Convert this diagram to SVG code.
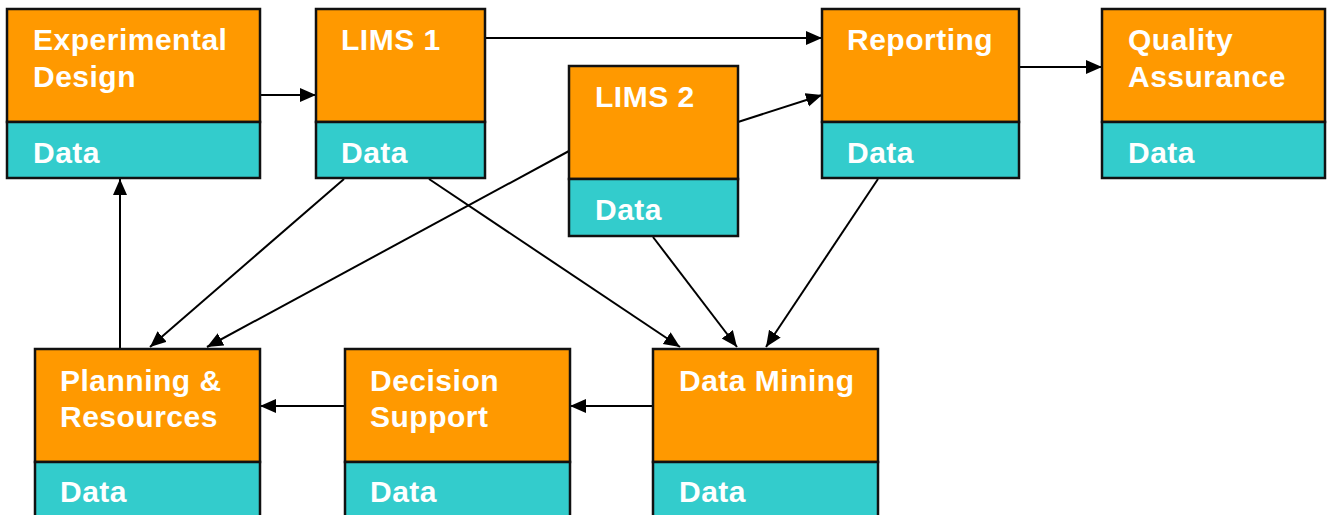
<svg xmlns="http://www.w3.org/2000/svg" width="1327" height="515" viewBox="0 0 1327 515">
<defs>
<marker id="ah" markerUnits="userSpaceOnUse" markerWidth="18" markerHeight="16" refX="16" refY="7" orient="auto">
<path d="M0,0 L16,7 L0,14 z" fill="#000"/>
</marker>
<style>
.top{fill:#FF9900;stroke:#111;stroke-width:2.5}
.dat{fill:#33CCCC;stroke:#111;stroke-width:2.5}
.t{font-family:"Liberation Sans",Arial,sans-serif;font-weight:bold;font-size:30px;letter-spacing:0.5px;fill:#fff}
.c line{stroke:#000;stroke-width:2;marker-end:url(#ah)}
</style>
</defs>
<rect width="1327" height="515" fill="#fff"/>
<g class="c" id="connectors">
<line x1="260" y1="95" x2="316" y2="95"/>
<line x1="485" y1="38" x2="822" y2="38"/>
<line x1="738" y1="122" x2="822" y2="95"/>
<line x1="1019" y1="67" x2="1102" y2="67"/>
<line x1="344" y1="179" x2="150" y2="347"/>
<line x1="569" y1="151" x2="207" y2="347"/>
<line x1="429" y1="179" x2="680" y2="347"/>
<line x1="653" y1="237" x2="737" y2="347"/>
<line x1="878" y1="179" x2="766" y2="347"/>
<line x1="653" y1="406" x2="570" y2="406"/>
<line x1="345" y1="406" x2="260" y2="406"/>
<line x1="120" y1="348" x2="120" y2="179"/>
</g>
<g id="experimental-design">
<rect class="top" x="7" y="9" width="253" height="113"/>
<rect class="dat" x="7" y="122" width="253" height="56"/>
<text class="t" x="33" y="50">Experimental</text>
<text class="t" x="33" y="87">Design</text>
<text class="t" x="33" y="163">Data</text>
</g>
<g id="lims1">
<rect class="top" x="316" y="9" width="169" height="113"/>
<rect class="dat" x="316" y="122" width="169" height="56"/>
<text class="t" x="341" y="50">LIMS 1</text>
<text class="t" x="341" y="163">Data</text>
</g>
<g id="lims2">
<rect class="top" x="569" y="66" width="169" height="113"/>
<rect class="dat" x="569" y="179" width="169" height="57"/>
<text class="t" x="595" y="107">LIMS 2</text>
<text class="t" x="595" y="220">Data</text>
</g>
<g id="reporting">
<rect class="top" x="822" y="9" width="197" height="113"/>
<rect class="dat" x="822" y="122" width="197" height="56"/>
<text class="t" x="847" y="50">Reporting</text>
<text class="t" x="847" y="163">Data</text>
</g>
<g id="quality-assurance">
<rect class="top" x="1102" y="9" width="223" height="113"/>
<rect class="dat" x="1102" y="122" width="223" height="56"/>
<text class="t" x="1128" y="50">Quality</text>
<text class="t" x="1128" y="87">Assurance</text>
<text class="t" x="1128" y="163">Data</text>
</g>
<g id="planning-resources">
<rect class="top" x="35" y="349" width="225" height="113"/>
<rect class="dat" x="35" y="462" width="225" height="60"/>
<text class="t" x="60" y="391">Planning &amp;</text>
<text class="t" x="60" y="427">Resources</text>
<text class="t" x="60" y="502">Data</text>
</g>
<g id="decision-support">
<rect class="top" x="345" y="349" width="225" height="113"/>
<rect class="dat" x="345" y="462" width="225" height="60"/>
<text class="t" x="370" y="391">Decision</text>
<text class="t" x="370" y="427">Support</text>
<text class="t" x="370" y="502">Data</text>
</g>
<g id="data-mining">
<rect class="top" x="653" y="349" width="225" height="113"/>
<rect class="dat" x="653" y="462" width="225" height="60"/>
<text class="t" x="679" y="391">Data Mining</text>
<text class="t" x="679" y="502">Data</text>
</g>
</svg>
